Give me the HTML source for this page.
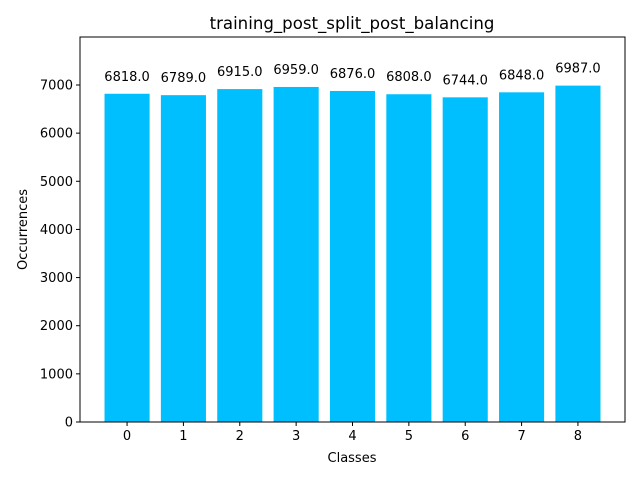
<!DOCTYPE html>
<html><head><meta charset="utf-8"><style>
body{margin:0;background:#fff;}
svg{display:block;font-family:"DejaVu Sans","Liberation Sans",sans-serif;}
</style></head><body>
<svg id="chart" width="640" height="480">
<rect width="640" height="480" fill="#fff"/>
<text x="352" y="29" text-anchor="middle" font-size="16.6">training_post_split_post_balancing</text>
<g id="bars"></g>
<g id="xticks"></g>
<g id="yticks"></g>
<rect x="80" y="37" width="545" height="385" fill="none" stroke="#000" stroke-width="1"/>
<text x="352" y="462" text-anchor="middle" font-size="13">Classes</text>
<text transform="translate(27,229.5) rotate(-90)" text-anchor="middle" font-size="13">Occurrences</text>
</svg>
<script>
const categories = ["0","1","2","3","4","5","6","7","8"];
const values = [6818, 6789, 6915, 6959, 6876, 6808, 6744, 6848, 6987];
const valueLabels = ["6818.0","6789.0","6915.0","6959.0","6876.0","6808.0","6744.0","6848.0","6987.0"];
const yTicks = [0,1000,2000,3000,4000,5000,6000,7000];

const L=80,R=625,T=37,B=422;
const xmin=-0.835,xmax=categories.length-1+0.835,ymax=7997;
const xs=i=>L+(i-xmin)/(xmax-xmin)*(R-L);
const ys=v=>B-v/ymax*(B-T);
const ns="http://www.w3.org/2000/svg";
function mk(tag,attrs,parent){const e=document.createElementNS(ns,tag);for(const k in attrs)e.setAttribute(k,attrs[k]);parent.appendChild(e);return e;}
const bars=document.getElementById('bars'),xt=document.getElementById('xticks'),yt=document.getElementById('yticks');
const bw=0.8*(xs(1)-xs(0));
values.forEach((v,i)=>{
  const r=mk('rect',{x:xs(i)-bw/2,y:ys(v),width:bw,height:B-ys(v),fill:'#00bfff'},bars);
  
  
  const t=mk('text',{x:xs(i),y:ys(v)-13,'text-anchor':'middle','font-size':'13'},bars);
  t.textContent=valueLabels[i];
  
  
  mk('line',{x1:xs(i),x2:xs(i),y1:B,y2:B+4,stroke:'#000'},xt);
  const l=mk('text',{x:xs(i),y:B+18,'text-anchor':'middle','font-size':'13'},xt);
  l.textContent=categories[i];
  
  
});
yTicks.forEach(v=>{
  mk('line',{x1:L-4,x2:L,y1:ys(v),y2:ys(v),stroke:'#000'},yt);
  const l=mk('text',{x:L-7,y:ys(v)+4.5,'text-anchor':'end','font-size':'13'},yt);
  l.textContent=v;
  
  
});
</script>
</body></html>
